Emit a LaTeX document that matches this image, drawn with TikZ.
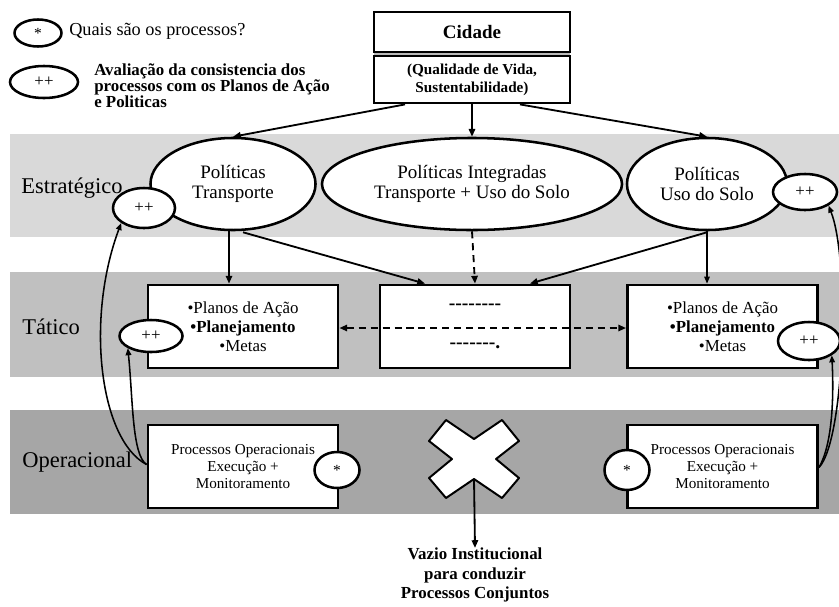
\documentclass[tikz,border=0pt]{standalone}
\usepackage{fontspec}
\setmainfont{Liberation Serif}
\usetikzlibrary{shapes.geometric,arrows.meta,calc}

\definecolor{bandA}{RGB}{217,217,217}
\definecolor{bandB}{RGB}{192,192,192}
\definecolor{bandC}{RGB}{166,166,166}

% a row of separate hyphens (no dash ligatures)
\newcommand\hyrow[1]{\foreach \i in {1,...,#1}{-\kern0pt}}

\begin{document}
\begin{tikzpicture}[x=0.025cm,y=-0.025cm,
  oval/.style={ellipse,draw,line width=1.8pt,fill=white,inner sep=0pt,align=center},
  boxnode/.style={rectangle,draw,line width=2pt,fill=white,inner sep=0pt,
    minimum width=4.75cm,minimum height=2.075cm,align=center},
  arr/.style={-{Triangle[length=5.5pt,width=4.5pt]},line width=1.3pt},
  thinarr/.style={-{Triangle[length=5pt,width=4pt]},line width=0.8pt},
  dasharr/.style={arr,dash pattern=on 5pt off 3.5pt},
  lvl/.style={anchor=west,inner sep=0pt,font=\fontsize{16}{18}\selectfont},
  plus/.style={oval,font=\fontsize{12}{14}\selectfont},
  star/.style={oval,font=\fontsize{11}{13}\selectfont},
  ellfont/.style={font=\fontsize{13.5}{14.2}\selectfont},
]
\useasboundingbox (0,0) rectangle (839,606);

% level bands
\fill[bandA] (10,134) rectangle (839,237);
\fill[bandB] (10,272) rectangle (839,377);
\fill[bandC] (10,410) rectangle (839,514);

\node[lvl] (lvlE) at (21,188) {Estratégico};
\node[lvl] (lvlT) at (22,327) {Tático};
\node[lvl] (lvlO) at (22,462) {Operacional};

% legend
\node[star,minimum width=1.175cm,minimum height=0.675cm] (legS) at (38,33) {*};
\node[anchor=west,inner sep=0pt,font=\fontsize{13}{15}\selectfont] (legSt) at (69,31) {Quais são os processos?};
\node[plus,minimum width=1.7cm,minimum height=0.8cm] (legP) at (44,82) {++};
\node[anchor=north west,inner sep=0pt,align=left,font=\bfseries\fontsize{12}{11.4}\selectfont]
  (legPt) at (94,63) {Avaliação da consistencia dos\\processos com os Planos de Ação\\e Politicas};

% city box
\fill[gray!55] (374,51) rectangle (570,57);
\node[draw,line width=2pt,fill=white,inner sep=0pt,minimum width=4.9cm,minimum height=1.0cm,
  font=\bfseries\fontsize{13.5}{15}\selectfont] (cid) at (472,32) {Cidade};
\node[draw,line width=2pt,fill=white,inner sep=0pt,minimum width=4.9cm,minimum height=1.175cm,
  align=center,font=\bfseries\fontsize{10.8}{12.8}\selectfont] (qual) at (472,79.5)
  {(Qualidade de Vida,\\Sustentabilidade)};

% strategic policies
\node[oval,ellfont,minimum width=4.125cm,minimum height=2.3cm] (pt) at (233,184) {Políticas\\Transporte};
\node[oval,ellfont,minimum width=7.5cm,minimum height=2.3cm] (pi) at (472,184) {Políticas Integradas\\Transporte + Uso do Solo};
\node[oval,ellfont,minimum width=4.0cm,minimum height=2.3cm] (pu) at (707,184) {Políticas\\Uso do Solo};

% tactical boxes
\node[boxnode,font=\fontsize{12}{13.6}\selectfont] (tl) at (243,326.5)
  {•Planos de Ação\\\textbf{•Planejamento}\\•Metas};
\node[boxnode,font=\bfseries\fontsize{14}{28}\selectfont] (tm) at (475,326.5)
  {\hyrow{8}\\\hyrow{7}.};
\node[boxnode,font=\fontsize{12}{13.6}\selectfont] (tr) at (722.5,326.5)
  {•Planos de Ação\\\textbf{•Planejamento}\\•Metas};

% operational boxes
\node[boxnode,font=\fontsize{10.8}{12}\selectfont] (opl) at (243,466.5)
  {Processos Operacionais\\Execução +\\Monitoramento};
\node[boxnode,font=\fontsize{10.8}{12}\selectfont] (opr) at (722.5,466.5)
  {Processos Operacionais\\Execução +\\Monitoramento};

% missing joint institution
\filldraw[fill=white,line width=1.4pt,line join=round]
  (446,420) -- (474,439) -- (502,420) -- (519,441) -- (496,459) -- (519,478)
  -- (502,498) -- (474,479) -- (446,498) -- (429,478) -- (452,459) -- (429,441) -- cycle;
\coordinate (xn) at (474,479);
\node[inner sep=0pt,align=center,font=\bfseries\fontsize{12}{13.6}\selectfont] (vazio) at (475,575)
  {Vazio Institucional\\para conduzir\\Processos Conjuntos};
\draw[arr] (xn) -- (vazio.north);

% city to policies
\draw[arr] ($(qual.south)+(-67,0)$) -- (pt.north);
\draw[arr] (qual.south) -- (pi.north);
\draw[arr] ($(qual.south)+(48,0)$) -- (pu.north);

% policies to tactical level
\draw[arr] ($(pt.south)+(-4,0)$) -- ($(tl.north)+(-14,0)$);
\draw[arr] ($(pt.south)+(10,1)$) -- ($(tm.north)+(-50,0)$);
\draw[dasharr] (pi.south) -- (tm.north);
\draw[arr] ($(pu.south)+(0,1)$) -- ($(tm.north)+(55,0)$);
\draw[thinarr] (pu.south) -- (pu.south |- tr.north);
\draw[dasharr,{Triangle[length=5.5pt,width=4.5pt]}-{Triangle[length=5.5pt,width=4.5pt]}]
  ($(tl.east)+(0,1.5)$) -- ($(tr.west)+(0,1.5)$);

% consistency checks
\node[plus,minimum width=1.55cm,minimum height=1.0cm] (pE1) at (144,208) {++};
\node[plus,minimum width=1.6cm,minimum height=0.9cm] (pE2) at (805,192) {++};
\node[plus,minimum width=1.575cm,minimum height=0.8cm] (pT1) at (151,336) {++};
\node[plus,minimum width=1.55cm,minimum height=0.95cm] (pT2) at (809,341) {++};
\node[star,minimum width=1.125cm,minimum height=0.9cm] (s1) at (337,470) {*};
\node[star,minimum width=1.125cm,minimum height=1.0cm] (s2) at (627,470) {*};

% feedback from operations
\coordinate (fl) at ($(opl.west)+(0,-2)$);
\coordinate (fr) at ($(opr.east)+(0,1)$);
\draw[thinarr,line width=1.1pt] (fl) .. controls (100,440) and (85,320) .. (pE1.south west);
\draw[thinarr,line width=1.1pt] (fl) .. controls (132,455) and (133,400) .. (pT1.south west);
\draw[thinarr,line width=1.1pt] (fr) .. controls (845,440) and (850,260) .. (pE2.south east);
\draw[thinarr,line width=1.1pt] (fr) .. controls (832,445) and (834,400) .. (pT2.south east);
\end{tikzpicture}
\end{document}
